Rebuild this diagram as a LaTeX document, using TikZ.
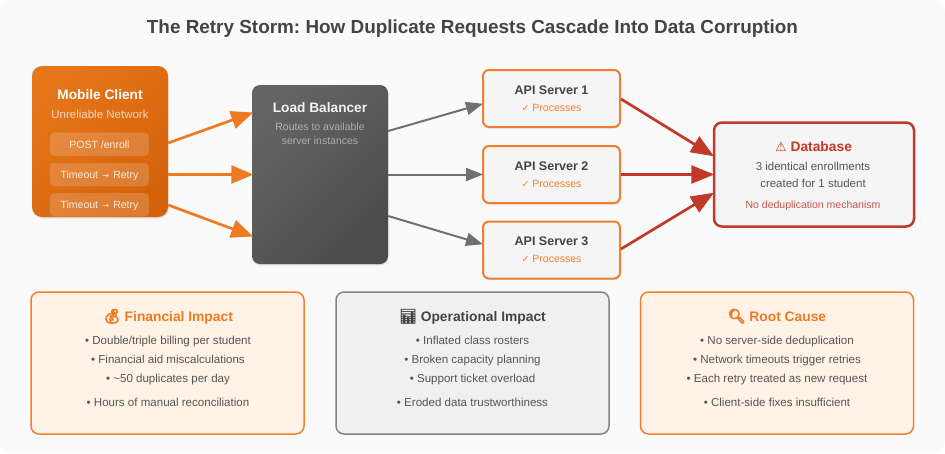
\documentclass[tikz,border=0pt]{standalone}
\usepackage{fontspec}
\setmainfont{Liberation Sans}
\newfontfamily\symfont{DejaVu Sans}
\newfontfamily\emojifont[FakeBold=2.5]{Noto Emoji}
\newfontfamily\emojisolid[FakeBold=7]{Noto Emoji}
\usetikzlibrary{arrows.meta,shadows}
\definecolor{bgc}{HTML}{FAFAFA}
\definecolor{orangeA}{HTML}{E6761A}
\definecolor{orangeB}{HTML}{D4620A}
\definecolor{orangeS}{HTML}{F08030}
\definecolor{orangeT}{HTML}{EE7A22}
\definecolor{greyA}{HTML}{646464}
\definecolor{greyB}{HTML}{4C4C4C}
\definecolor{greyL}{HTML}{707070}
\definecolor{redS}{HTML}{C0392B}
\definecolor{txt}{HTML}{555555}
\definecolor{dark}{HTML}{444444}
\definecolor{pale}{HTML}{F5F5F5}
\definecolor{cream}{HTML}{FFF3E8}
\definecolor{greyF}{HTML}{F0F0F0}
\newcommand{\fs}[1]{\fontsize{#1}{#1}\selectfont}
\tikzset{
  softshadow/.style={general shadow={shadow xshift=0.5pt,shadow yshift=-1.5pt,fill=black,opacity=0.10}},
  boxbase/.style={rectangle,inner sep=0pt,minimum width=#1,softshadow},
  clientbox/.style={boxbase=136pt,minimum height=151pt,rounded corners=10pt,left color=orangeA,right color=orangeB,shading angle=45},
  pillbox/.style={rectangle,inner sep=0pt,minimum width=99pt,minimum height=23.5pt,rounded corners=4.5pt,fill=white,fill opacity=0.17},
  lbbox/.style={boxbase=136pt,minimum height=179pt,rounded corners=8pt,left color=greyA,right color=greyB,shading angle=45},
  apibox/.style={boxbase=137pt,minimum height=57pt,rounded corners=6pt,fill=pale,draw=orangeS,line width=2pt},
  dbbox/.style={boxbase=200pt,minimum height=104pt,rounded corners=8pt,fill=pale,draw=redS,line width=2.5pt},
  impactbox/.style={rectangle,inner sep=0pt,minimum width=273pt,minimum height=142pt,rounded corners=8pt,line width=1.5pt},
  orangecard/.style={impactbox,fill=cream,draw=orangeS},
  greycard/.style={impactbox,fill=greyF,draw=greyL!85!white},
  lbl/.style={anchor=base,inner sep=0pt,align=center},
  oarrow/.style={draw=orangeT,line width=2.7pt,shorten >=-1.5pt,-{Triangle[length=22pt,width=18pt]}},
  garrow/.style={draw=greyL,line width=2pt,shorten >=-1pt,-{Triangle[length=17pt,width=13pt]}},
  rarrow/.style={draw=redS,line width=2.7pt,shorten >=-1.5pt,-{Triangle[length=23pt,width=18pt]}},
  bullet/.style={lbl,text=txt,font=\fs{11.55}},
  heading/.style={lbl,font=\fs{13.8}\bfseries},
}
\begin{document}
\frenchspacing
\begin{tikzpicture}[x=1pt,y=-1pt]
\useasboundingbox (0,0) rectangle (945,453);
\fill[white] (0,0) rectangle (945,453);
\fill[bgc,rounded corners=12pt] (0,0) rectangle (945,453);

\node[lbl,text=dark,font=\fs{18.9}\bfseries] (title) at (472.5,33) {The Retry Storm: How Duplicate Requests Cascade Into Data Corruption};

% client
\node[clientbox] (client) at (100,141.5) {};
\node[lbl,text=white,font=\fs{13.7}\bfseries] (clientT) at (100,99) {Mobile Client};
\node[lbl,text=white,text opacity=0.72,font=\fs{11.5}] (clientS) at (100,118) {Unreliable Network};
\node[pillbox] (p1) at (99.5,144.2) {};
\node[pillbox] (p2) at (99.5,174.5) {};
\node[pillbox] (p3) at (99.5,204.8) {};
\node[lbl,text=white,text opacity=0.85,font=\fs{10.5}] (p1t) at (99.5,148) {POST /enroll};
\node[lbl,text=white,text opacity=0.85,font=\fs{10.5}] (p2t) at (99.5,178.5) {Timeout {\symfont\fs{8}\,→\,} Retry};
\node[lbl,text=white,text opacity=0.85,font=\fs{10.5}] (p3t) at (99.5,208.7) {Timeout {\symfont\fs{8}\,→\,} Retry};

% load balancer
\node[lbbox] (lb) at (320,174.5) {};
\node[lbl,text=white,text opacity=0.92,font=\fs{13.7}\bfseries] (lbT) at (320,112) {Load Balancer};
\node[lbl,text=white,text opacity=0.5,font=\fs{10.5}] (lbS1) at (320,130.5) {Routes to available};
\node[lbl,text=white,text opacity=0.5,font=\fs{10.5}] (lbS2) at (320,144) {server instances};

% api servers
\foreach \n/\yc/\yt/\yp in {1/98.5/94/111,2/174.5/170/187,3/250/245/262}{
  \node[apibox] (api\n) at (551.5,\yc) {};
  \node[lbl,text=dark,font=\fs{12.5}\bfseries] (api\n T) at (551.5,\yt) {API Server \n};
  \node[lbl,text=orangeS,font=\fs{10.5}] (api\n S) at (551.5,\yp) {{\symfont\fs{9.5}✓} Processes};
}

% database
\node[dbbox] (db) at (814,174.5) {};
\node[lbl,text=redS,font=\fs{13.8}\bfseries] (dbT) at (813.5,151) {{\symfont\mdseries\fs{13}⚠} Database};
\node[lbl,text=txt,font=\fs{11.5}] (dbS1) at (813,170) {3 identical enrollments};
\node[lbl,text=txt,font=\fs{11.5}] (dbS2) at (813,187) {created for 1 student};
\node[lbl,text=redS,text opacity=0.85,font=\fs{10.5}] (dbS3) at (813,208) {No deduplication mechanism};

% connectors
\draw[oarrow] ([yshift=-1.5pt]client.east) -- ([yshift=61.5pt]lb.west);
\draw[oarrow] ([yshift=-33pt]client.east) -- (lb.west);
\draw[oarrow] ([yshift=-63.5pt]client.east) -- ([yshift=-61.5pt]lb.west);
\draw[garrow] ([yshift=43.5pt]lb.east) -- ([yshift=-5.5pt]api1.west);
\draw[garrow] (lb.east) -- (api2.west);
\draw[garrow] ([yshift=-41.5pt]lb.east) -- ([yshift=6pt]api3.west);
\draw[rarrow] ([yshift=-0.5pt]api1.east) -- ([yshift=19pt]db.west);
\draw[rarrow] (api2.east) -- (db.west);
\draw[rarrow] ([yshift=1pt]api3.east) -- ([yshift=-19pt]db.west);

% impact cards
\node[orangecard] (fin) at (167.5,363) {};
\node[greycard] (ops) at (472.5,363) {};
\node[orangecard] (root) at (777,363) {};

\node[heading,text=orangeT] (finT) at (168,321) {{\emojisolid\mdseries\fs{14}💰} Financial Impact};
\node[bullet] (f1) at (168,344) {• Double/triple billing per student};
\node[bullet] (f2) at (168,363) {• Financial aid miscalculations};
\node[bullet] (f3) at (168,382) {• \textasciitilde 50 duplicates per day};
\node[bullet] (f4) at (168,406) {• Hours of manual reconciliation};

\node[heading,text=dark] (opsT) at (472.5,321) {{\emojifont\mdseries\fs{14}📊} Operational Impact};
\node[bullet] (o1) at (472.5,344) {• Inflated class rosters};
\node[bullet] (o2) at (472.5,363) {• Broken capacity planning};
\node[bullet] (o3) at (472.5,382) {• Support ticket overload};
\node[bullet] (o4) at (472.5,406) {• Eroded data trustworthiness};

\node[heading,text=orangeT] (rootT) at (777,321) {{\emojisolid\mdseries\fs{14}🔍} Root Cause};
\node[bullet] (r1) at (777,344) {• No server-side deduplication};
\node[bullet] (r2) at (777,363) {• Network timeouts trigger retries};
\node[bullet] (r3) at (777,382) {• Each retry treated as new request};
\node[bullet] (r4) at (777,406) {• Client-side fixes insufficient};
\end{tikzpicture}
\end{document}
